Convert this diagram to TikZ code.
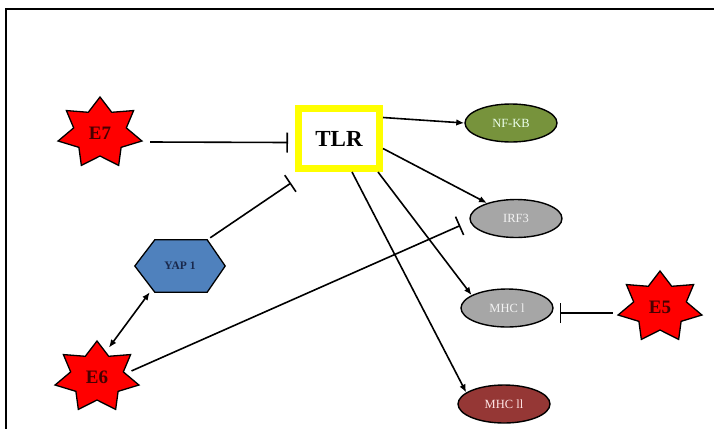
\documentclass[tikz,border=0pt]{standalone}
\usepackage{fontspec}
\setmainfont{Liberation Serif}
\usetikzlibrary{arrows.meta,shapes.geometric}
\definecolor{starred}{RGB}{255,0,0}
\definecolor{startxt}{RGB}{70,0,0}
\definecolor{tlryellow}{RGB}{255,255,0}
\definecolor{nfkbgreen}{RGB}{119,147,60}
\definecolor{irfgray}{RGB}{166,166,166}
\definecolor{mhcred}{RGB}{149,55,53}
\definecolor{yapblue}{RGB}{79,129,189}
\definecolor{yaptxt}{RGB}{25,40,75}
\tikzset{
  starnode/.style={ellipse, minimum width=70, minimum height=62, inner sep=0,
    font=\fontsize{19}{19}\selectfont\bfseries, text=startxt},
  pill/.style={ellipse, draw=black, line width=1.4, minimum width=92, minimum height=38,
    inner sep=0, font=\fontsize{12.5}{12.5}\selectfont},
  conn/.style={line width=1.6, draw=black},
  act/.style={conn, -{Latex[length=8,width=6.5]}},
  inh/.style={conn, -{Bar[width=20,line width=1.6]}},
}
\newcommand\estar[3]{%
  \filldraw[fill=starred, draw=black, line width=1.3, shift={(#1,#2)}]
    plot[samples at={0,...,13}, variable=\k]
    ({ifthenelse(mod(\k,2)==0,43,27)*cos(90+\k*180/7)},
     {-ifthenelse(mod(\k,2)==0,36,23)*sin(90+\k*180/7)}) -- cycle;}
\begin{document}
\begin{tikzpicture}[x=1pt,y=-1pt]
\useasboundingbox (0,0) rectangle (714,429);
% frame
\draw[line width=1.8] (714,9) -- (6,9) -- (6,429);

% stars
\estar{100}{133}{}
\node[starnode] (E7) at (100,133) {E7};
\estar{97}{377}{}
\node[starnode] (E6) at (97,377) {E6};
\estar{660}{307}{}
\node[starnode] (E5) at (660,307) {E5};

% TLR
\node[draw=tlryellow, line width=7, fill=white, minimum width=81, minimum height=60,
  inner sep=0, font=\fontsize{23}{23}\selectfont\bfseries] (TLR) at (339,138.5) {TLR};

% YAP 1 hexagon
\node[minimum width=90, minimum height=52, inner sep=0] (YAP) at (180,266) {};
\filldraw[fill=yapblue, draw=black, line width=1.3]
  (YAP.west) -- ([xshift=20]YAP.north west) -- ([xshift=-18]YAP.north east) -- (YAP.east)
  -- ([xshift=-18]YAP.south east) -- ([xshift=20]YAP.south west) -- cycle;
\node[font=\fontsize{11.5}{11.5}\selectfont\bfseries, text=yaptxt] at (YAP) {YAP 1};

% ellipses
\node[pill, fill=nfkbgreen, text=white!92!green] (NFKB) at (511,123) {NF-KB};
\node[pill, fill=irfgray, text=white!95!black] (IRF3) at (516,218.5) {IRF3};
\node[pill, fill=irfgray, text=white!95!black] (MHC1) at (507,308) {MHC l};
\node[pill, fill=mhcred, text=white!90!red] (MHC2) at (504,404) {MHC ll};

% connectors
\draw[inh] ([xshift=15,yshift=-9]E7.east) -- ([xshift=-7,yshift=-4]TLR.west);
\draw[inh] ([xshift=-15,yshift=2]YAP.north east) -- ([xshift=-4,yshift=-11]TLR.south west);
\draw[act] ([yshift=21]TLR.east) -- (NFKB.west);
\draw[act] ([yshift=-10]TLR.east) -- (IRF3.152);
\draw[act] ([xshift=-5]TLR.south east) -- (MHC1.160);
\draw[act] ([xshift=13]TLR.south) -- (MHC2.163);
\draw[conn, {Latex[length=8,width=6.5]}-{Latex[length=8,width=6.5]}] ([xshift=15]YAP.south west) -- (E6.68);
\draw[inh] (E6.10) -- ([xshift=-9,yshift=-7]IRF3.west);
\draw[inh] ([xshift=-12,yshift=-6]E5.west) -- ([xshift=6,yshift=-5]MHC1.east);
\end{tikzpicture}
\end{document}
